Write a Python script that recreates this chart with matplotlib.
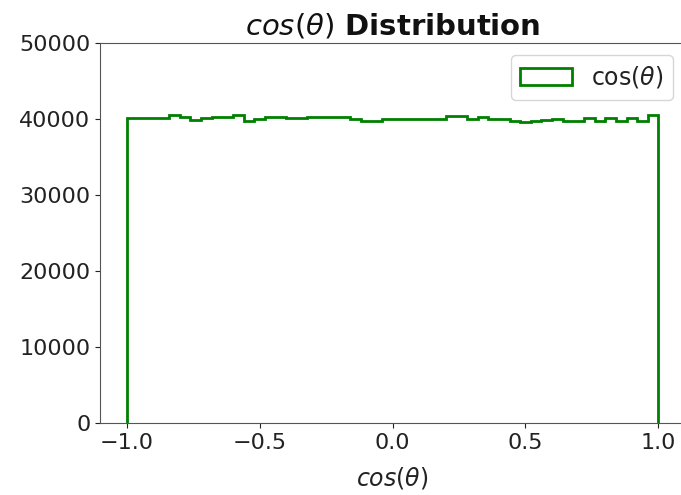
import numpy as np
import matplotlib
matplotlib.use("Agg")
import matplotlib.pyplot as plt

# cos(theta) histogram: 50 equal bins over [-1, 1]
bin_edges = np.linspace(-1.0, 1.0, 51)
counts = [
    40130, 40130, 40130, 40130, 40570, 40220, 39910, 40130, 40200, 40200,
    40570, 39780, 40000, 40220, 40220, 40130, 40070, 40220, 40220, 40220,
    40220, 40000, 39700, 39700, 40000, 40000, 40000, 40000, 40000, 40000,
    40360, 40360, 40000, 40290, 40000, 40000, 39780, 39570, 39700, 39910,
    40000, 39780, 39780, 40130, 39700, 40130, 39700, 40130, 39800, 40530,
]
yticks = [0, 10000, 20000, 30000, 40000, 50000]

fig = plt.figure(figsize=(6.81, 4.95), dpi=100)
ax = fig.add_axes([100 / 681, 72 / 495, 585 / 681, 380 / 495])

centers = 0.5 * (bin_edges[:-1] + bin_edges[1:])
ax.hist(centers, bins=bin_edges, weights=counts, histtype='step',
        color='green', linewidth=2, label=r'cos($\theta$)')

ax.set_ylim(0, 50000)
ax.set_yticks(yticks)
ax.set_xticks([-1.0, -0.5, 0.0, 0.5, 1.0])
ax.tick_params(labelsize=16, colors='#222222')
for sp in ax.spines.values():
    sp.set_color('#555555')
ax.spines['right'].set_visible(False)

ax.set_title(r'$cos(\theta)$ Distribution', fontsize=21, fontweight='bold',
             color='#111111')
ax.set_xlabel(r'$cos(\theta)$', fontsize=17, labelpad=9, color='#222222')
leg = ax.legend(fontsize=17, loc='upper right', handlelength=2.2)
for t in leg.get_texts():
    t.set_color('#222222')

fig.savefig('out.png', dpi=100)
